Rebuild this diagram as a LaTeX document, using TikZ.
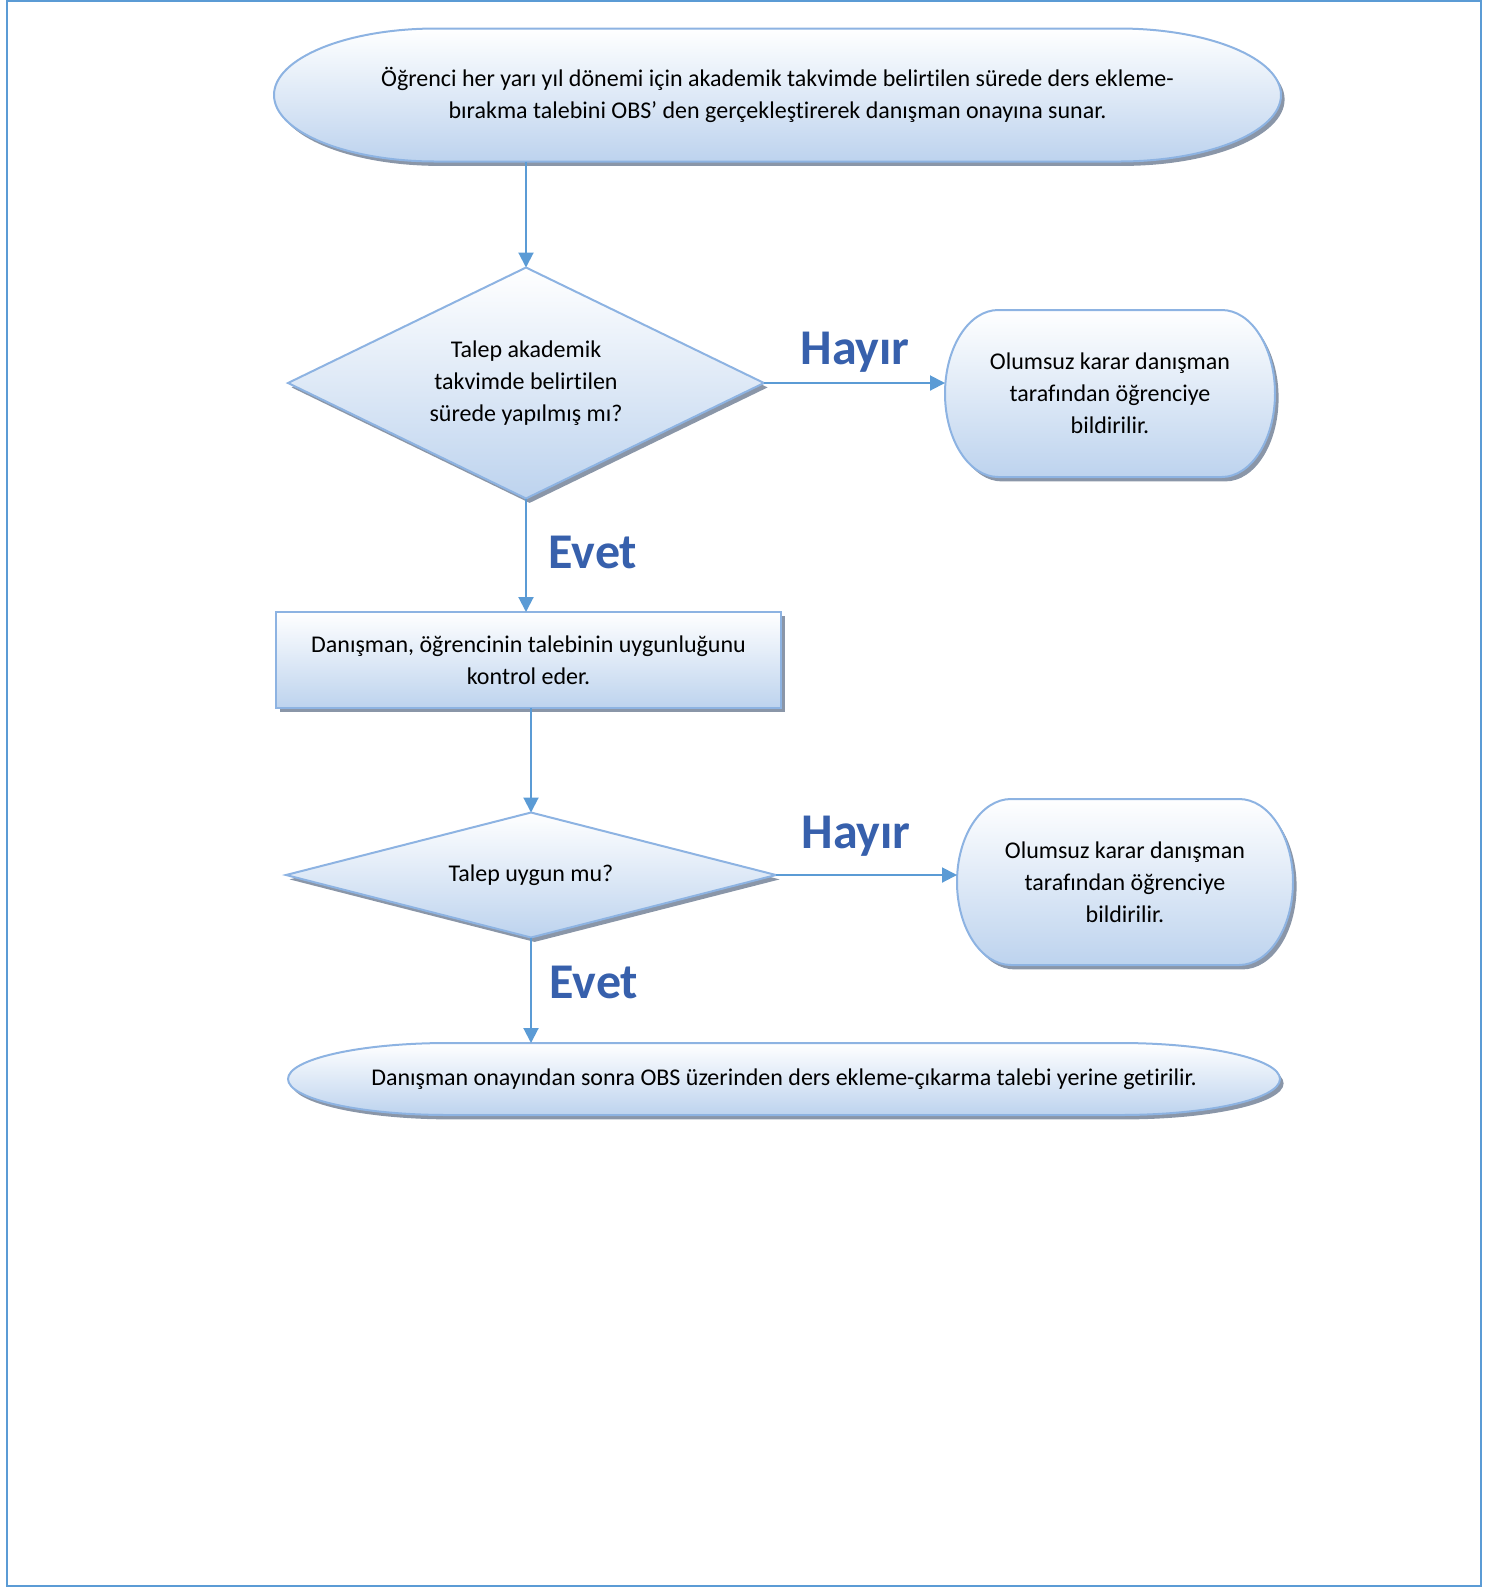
\documentclass[tikz,border=0pt]{standalone}
\usepackage{fontspec}
\setmainfont{Carlito}[Ligatures=NoCommon]
\usepackage{tikz}
\usetikzlibrary{arrows.meta,shapes.geometric,shadows,backgrounds}
\definecolor{linkblue}{RGB}{91,155,213}
\definecolor{edgeblue}{RGB}{141,179,226}
\definecolor{fillblue}{RGB}{189,211,238}
\definecolor{shadowgray}{RGB}{138,150,168}
\definecolor{labelblue}{RGB}{55,96,172}
\tikzset{
	flow/.style={draw=edgeblue, line width=1pt, top color=white, bottom color=fillblue,
		drop shadow={shadow xshift=1.8pt, shadow yshift=-2.2pt, fill=shadowgray, opacity=1}},
	termbox/.style={rectangle, outer sep=0pt, inner sep=0pt, align=center},
	decision/.style={flow, diamond, aspect=2, inner sep=0pt, outer sep=0pt, align=center},
	stepbox/.style={flow, rectangle, inner sep=0pt, outer sep=0pt, align=center},
	link/.style={draw=linkblue, line width=1pt, -{Triangle[length=7.5pt,width=7.5pt]}},
	answer/.style={font=\bfseries\fontsize{25}{25}\selectfont, text=labelblue}
}
% terminator outline round a named node: (node)(x radius)(y radius), radii in pt
\def\termshape[#1](#2)(#3)(#4){\draw[#1] (#2.west)
	arc[start angle=180, end angle=90, x radius=#3pt, y radius=#4pt]
	-- ([xshift=-#3pt]#2.north east)
	arc[start angle=90, end angle=0, x radius=#3pt, y radius=#4pt]
	arc[start angle=0, end angle=-90, x radius=#3pt, y radius=#4pt]
	-- ([xshift=#3pt]#2.south west)
	arc[start angle=270, end angle=180, x radius=#3pt, y radius=#4pt] -- cycle;}

\begin{document}
\begin{tikzpicture}[x=0.5pt, y=-0.5pt, font=\fontsize{12}{16}\selectfont]
	%%%%% START %%%%%
	\useasboundingbox (0,0) rectangle (1502,1587);
	\draw[linkblue, line width=1.3pt] (7,1) rectangle (1481,1586);
	
	\node[termbox, minimum width=503.5pt, minimum height=66.5pt] (start) at (777.5,95)
		{Öğrenci her yarı yıl dönemi için akademik takvimde belirtilen sürede ders ekleme-\\bırakma talebini OBS’ den gerçekleştirerek danışman onayına sunar.};
	
	\node[decision, minimum width=238pt, minimum height=115.5pt] (timecheck) at (526,383)
		{Talep akademik\\takvimde belirtilen\\sürede yapılmış mı?};
	\node[termbox, minimum width=165pt, minimum height=83.5pt] (reject1) at (1110,393.5)
		{Olumsuz karar danışman\\tarafından öğrenciye\\bildirilir.};
	
	\node[stepbox, minimum width=252.5pt, minimum height=48pt] (advisor) at (528.5,660)
		{Danışman, öğrencinin talebinin uygunluğunu\\kontrol eder.};
	
	\node[decision, minimum width=245pt, minimum height=62.5pt] (fitcheck) at (531,875)
		{Talep uygun mu?};
	\node[termbox, minimum width=168pt, minimum height=83pt] (reject2) at (1125,882)
		{Olumsuz karar danışman\\tarafından öğrenciye\\bildirilir.};
	
	\node[termbox, minimum width=496pt, minimum height=36pt] (finish) at (784,1079)
		{Danışman onayından sonra OBS üzerinden ders ekleme-çıkarma talebi yerine getirilir.};
	
	\begin{scope}[on background layer]
		\termshape[flow](start)(81)(33.25)
		\termshape[flow](reject1)(26.6)(41.75)
		\termshape[flow](reject2)(27)(41.5)
		\termshape[flow](finish)(80)(18)
	\end{scope}
	
	\draw[link] (start.south -| timecheck.north) -- (timecheck.north);
	\draw[link] (timecheck.east) -- (timecheck.east -| reject1.west);
	\draw[link] (timecheck.south) -- (timecheck.south |- advisor.north);
	\draw[link] (advisor.south -| fitcheck.north) -- (fitcheck.north);
	\draw[link] (fitcheck.east) -- (fitcheck.east -| reject2.west);
	\draw[link] (fitcheck.south) -- (fitcheck.south |- finish.north);
	
	\node[answer] (no1) at (855,352) {Hayır};
	\node[answer] (yes1) at (593,552) {Evet};
	\node[answer] (no2) at (856,836) {Hayır};
	\node[answer] (yes2) at (594,982) {Evet};
	%%%%% END %%%%%
\end{tikzpicture}
\end{document}
